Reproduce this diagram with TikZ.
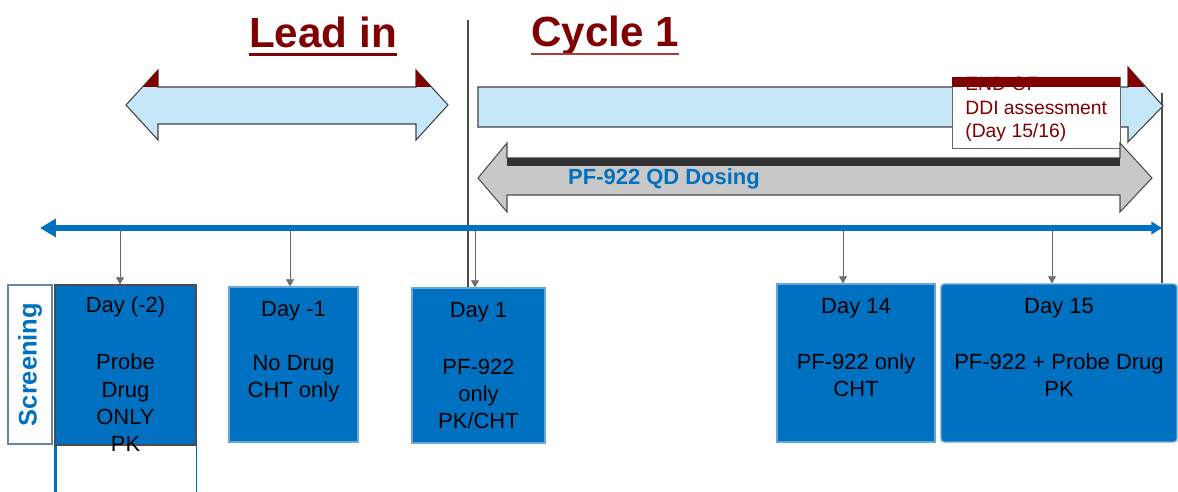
\documentclass[tikz,border=0pt]{standalone}
\usepackage{fontspec}
\setmainfont{Liberation Sans}
\usetikzlibrary{arrows.meta}
\definecolor{leadred}{HTML}{800000}
\definecolor{paleblue}{HTML}{C5E7F7}
\definecolor{dayblue}{HTML}{0070C0}
\definecolor{dosegray}{HTML}{C8C8C8}
\tikzset{
  daybox/.style={draw=dayblue!60, fill=dayblue, line width=0.8pt, inner sep=0pt},
  daytxt/.style={font=\fontsize{12.5}{15.6}\selectfont, align=center, inner sep=0pt, anchor=base},
  title/.style={font=\fontsize{24}{28}\selectfont\bfseries, text=leadred, inner sep=0pt, anchor=base},
  span/.style={draw=black!75, line width=0.6pt, fill=paleblue},
  tick/.style={draw=black!60, line width=0.5pt, -{Triangle[length=4pt,width=4.5pt,fill=black!55]}},
}
\begin{document}
\begin{tikzpicture}[x=0.02cm,y=-0.02cm]
\useasboundingbox (0,0) rectangle (1178,492);

% titles
\node[title] (lead) at (323,48) {Lead in};
\node[title] (cycle) at (605,47) {Cycle 1};
\draw[leadred, line width=1.4pt] ([yshift=-3.6pt]lead.base west) -- ([yshift=-3.6pt]lead.base east);
\draw[leadred!75, line width=1.1pt] ([yshift=-3.8pt]cycle.base west) -- ([yshift=-3.8pt]cycle.base east);

% phase separators
\coordinate (sep top) at (468,20);
\coordinate (sep bot) at (468,287);
\draw[black!70, line width=0.6pt] (sep top) -- (sep bot);
\coordinate (end top) at (1162,93);
\coordinate (end bot) at (1162,283);
\draw[black!70, line width=0.6pt] (end top) -- (end bot);

% lead in span
\draw[span] (126,105) -- (158,70) -- (158,87) -- (416,87) -- (416,70) -- (448,105)
  -- (416,140) -- (416,124) -- (158,124) -- (158,140) -- cycle;
\fill[leadred] (158,70) -- (158,87) -- (143,87) -- cycle;
\fill[leadred] (416,70) -- (416,87) -- (431,87) -- cycle;

% cycle 1 span
\draw[span] (478,87) -- (1128,87) -- (1128,67) -- (1163,106) -- (1128,142)
  -- (1128,127) -- (478,127) -- cycle;
\fill[leadred] (1128,67) -- (1128,87) -- (1145,87) -- cycle;

% end of DDI assessment
\draw[black!60, fill=white, line width=0.5pt] (952,77) rectangle (1120,148);
\fill[leadred] (952,77) rectangle (1120,87);
\node[font=\fontsize{11}{13.6}\selectfont, text=leadred, align=left, inner sep=0pt, anchor=base west] (ddi) at (965,138)
  {END OF\\DDI assessment\\(Day 15/16)};

% dosing span
\draw[draw=black!70, fill=dosegray, line width=0.6pt] (478,178) -- (507,143) -- (507,158) -- (1120,158)
  -- (1120,143) -- (1152,178) -- (1120,212) -- (1120,195) -- (507,195) -- (507,212) -- cycle;
\fill[black!80] (507,158) rectangle (1120,166);
\node[font=\fontsize{12.5}{15}\selectfont\bfseries, text=dayblue, inner sep=0pt, anchor=base] (dosing) at (664,185) {PF-922 QD Dosing};

% timeline
\coordinate (tl) at (40,228);
\coordinate (tr) at (1162,228);
\draw[dayblue, line width=3pt, {Triangle[length=9pt,width=10pt]}-{Triangle[length=6pt,width=7pt]}] (tl) -- (tr);

% screening
\node[draw=dayblue!50!black!60, fill=white, line width=0.6pt, minimum width=8.8mm, minimum height=31.8mm] (screen) at (30,364.5) {};
\node[rotate=90, font=\fontsize{14.5}{16}\selectfont\bfseries, text=dayblue] (screentxt) at (screen.center) {Screening};

% day boxes
\node[daybox, draw=black!70, minimum width=28.2mm, minimum height=32mm] (dm2) at (125.5,365) {};
\node[daybox, minimum width=25.8mm, minimum height=31mm] (dm1) at (293.5,364.5) {};
\node[daybox, minimum width=26.6mm, minimum height=31mm] (d1) at (478.5,365.5) {};
\node[daybox, minimum width=31.6mm, minimum height=31.6mm] (d14) at (856,363) {};
\node[daybox, rounded corners=2pt, minimum width=47.2mm, minimum height=31.6mm] (d15) at (1059,363) {};
\draw[dayblue, line width=1.7pt] (dm2.south west) ++(1.5,0) -- ++(0,47);
\draw[dayblue, line width=0.6pt] (dm2.south east) -- ++(0,47);

\node[daytxt] (dm2a) at (125.5,313) {Day (-2)};
\node[daytxt] (dm2b) at (125.5,452) {Probe\\Drug\\ONLY\\PK};
\node[daytxt] (dm1a) at (293.5,317) {Day -1};
\node[daytxt] (dm1b) at (293.5,398) {No Drug\\CHT only};
\node[daytxt] (d1a) at (478.5,318) {Day 1};
\node[daytxt] (d1b) at (478.5,429) {PF-922\\only\\PK/CHT};
\node[daytxt] (d14a) at (856,314) {Day 14};
\node[daytxt] (d14b) at (856,397) {PF-922 only\\CHT};
\node[daytxt] (d15a) at (1059,314) {Day 15};
\node[daytxt] (d15b) at (1059,397) {PF-922 + Probe Drug\\PK};

% day markers
\coordinate (tm2) at (120,228);
\coordinate (tm1) at (290,228);
\coordinate (t1) at (475,228);
\coordinate (t14) at (843,228);
\coordinate (t15) at (1052,228);
\draw[tick] (tm2) -- (tm2 |- dm2.north);
\draw[tick] (tm1) -- (tm1 |- dm1.north);
\draw[tick] (t1) -- (t1 |- d1.north);
\draw[tick] (t14) -- (t14 |- d14.north);
\draw[tick] (t15) -- (t15 |- d15.north);
\end{tikzpicture}
\end{document}
